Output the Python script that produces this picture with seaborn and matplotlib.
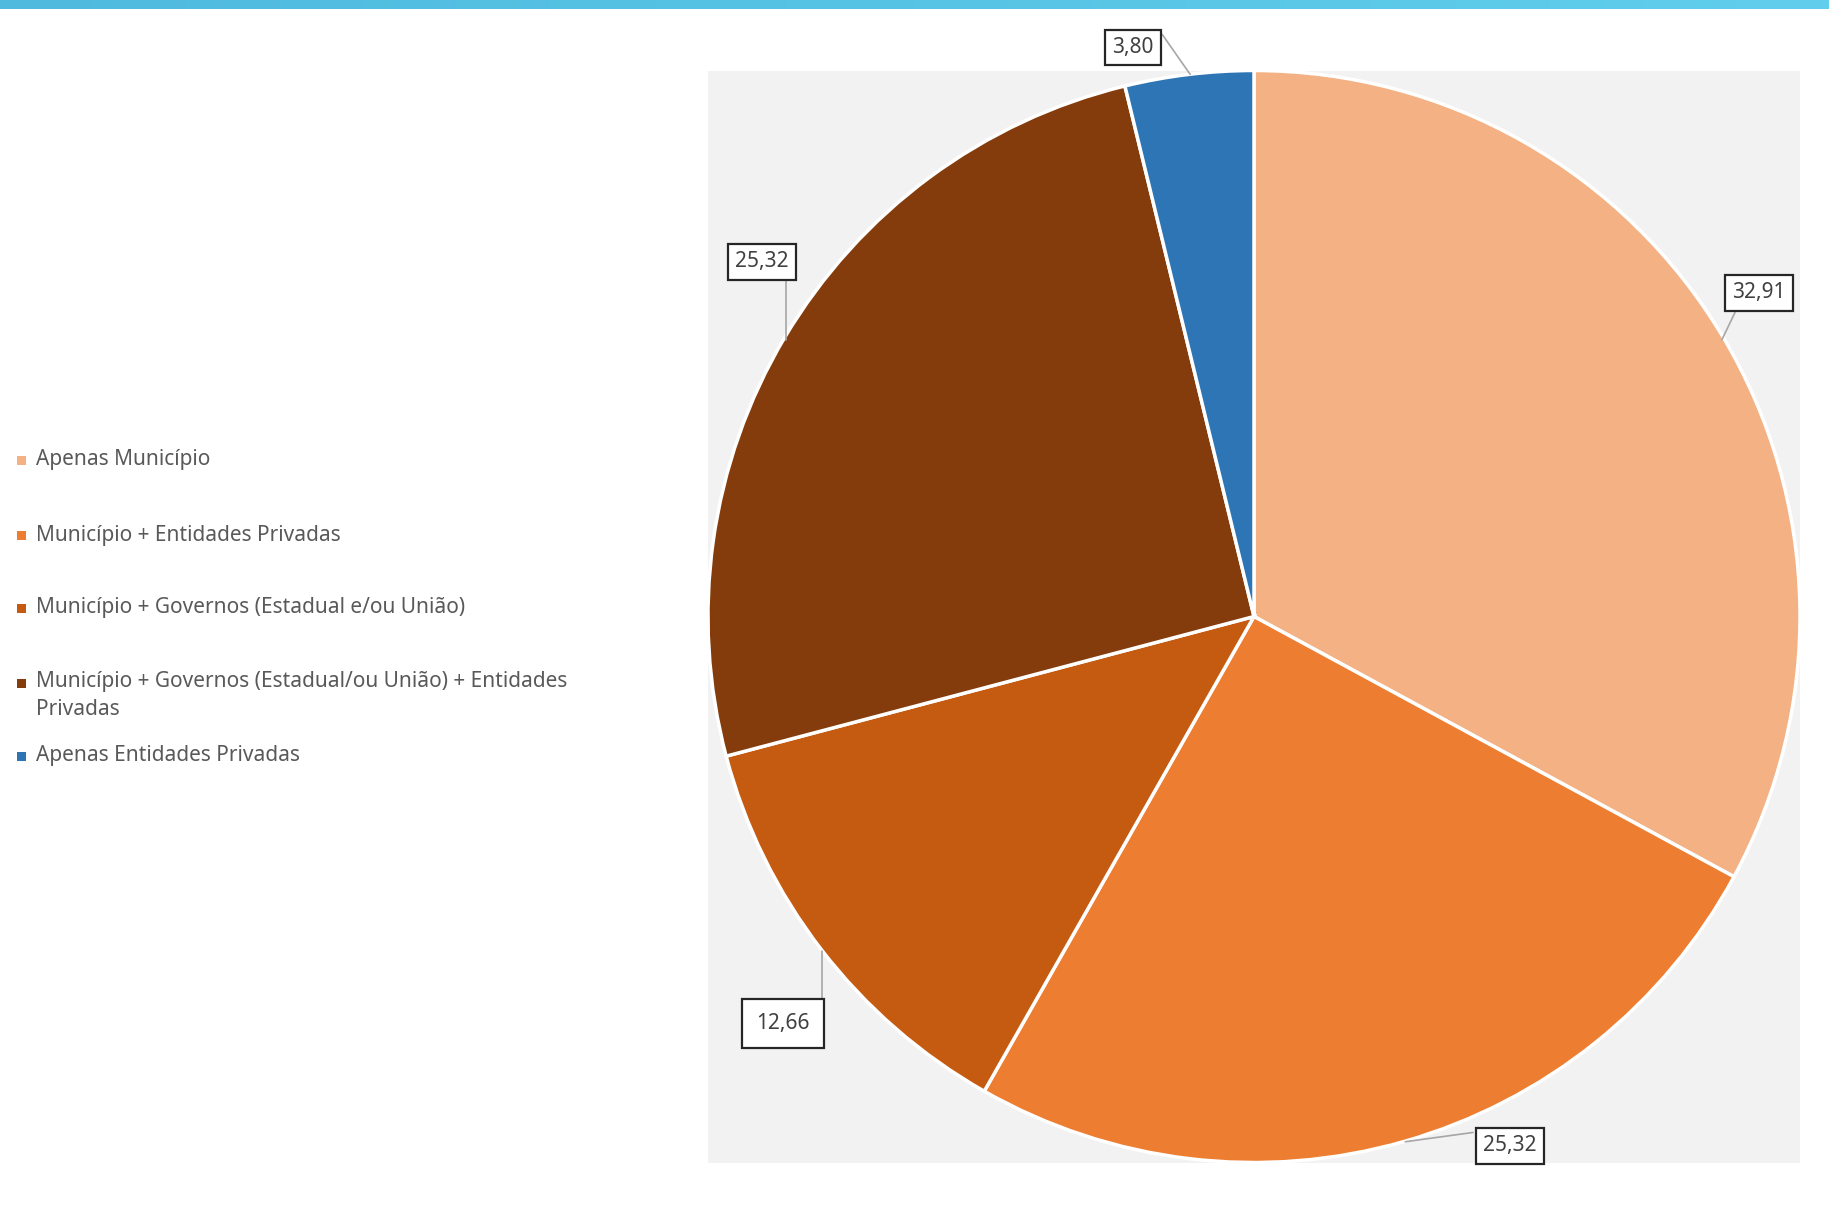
import numpy as np
import matplotlib
matplotlib.use("Agg")
import matplotlib.pyplot as plt
import seaborn as sns

sns.set_style("white")
plt.rcParams["font.family"] = ["Noto Sans", "DejaVu Sans"]

# Data
categories = [
    "Apenas Município",
    "Município + Entidades Privadas",
    "Município + Governos (Estadual e/ou União)",
    "Município + Governos (Estadual/ou União) + Entidades\nPrivadas",
    "Apenas Entidades Privadas",
]
values = [32.91, 25.32, 12.66, 25.32, 3.80]
value_labels = ["32,91", "25,32", "12,66", "25,32", "3,80"]
colors = ["#F4B183", "#ED7D31", "#C55A11", "#843C0C", "#2E75B6"]

# Label layout (axes data coords, pie radius = 1)
label_pos = [(0.925, 0.593), (0.469, -0.969), (-0.863, -0.745), (-0.901, 0.650), (-0.2216, 1.042)]
leader_start = [(0.881, 0.557), (0.401, -0.945), (-0.791, -0.698), (-0.857, 0.615), (-0.168, 1.066)]
leader_end = [(0.857, 0.507), (0.277, -0.962), (-0.791, -0.612), (-0.857, 0.507), (-0.117, 0.993)]
box_pad = [0.36, 0.36, 0.68, 0.36, 0.33]

W, H = 1829, 1217
fig = plt.figure(figsize=(W / 100, H / 100), dpi=100)
fig.patch.set_facecolor("white")

# Top gradient bar
bar = fig.add_axes([0, 1 - 9 / H, 1, 9 / H])
grad = np.linspace(0, 1, 256).reshape(1, -1)
cmap = matplotlib.colors.LinearSegmentedColormap.from_list("bar", ["#4FBADE", "#60CEEC"])
bar.imshow(grad, aspect="auto", cmap=cmap)
bar.axis("off")

# Pie plot area
ax = fig.add_axes([708 / W, 1 - 1163 / H, 1092 / W, 1093 / H])
wedges, _ = ax.pie(values, colors=colors, startangle=90, counterclock=False,
                   radius=1.0, wedgeprops=dict(edgecolor="white", linewidth=2.5))
for w in wedges:
    w.set_clip_on(False)
ax.set_frame_on(True)
ax.set_facecolor("#F2F2F2")
ax.set_xlim(-1.0, 1.0)
ax.set_ylim(-1.0, 1.0)
ax.set_aspect("equal")
for s in ax.spines.values():
    s.set_visible(False)
ax.set_xticks([])
ax.set_yticks([])

for lab, pos, st, en, pad in zip(value_labels, label_pos, leader_start, leader_end, box_pad):
    ax.plot([st[0], en[0]], [st[1], en[1]], color="#A6A6A6", lw=1.2,
            clip_on=False, zorder=4)
    ax.text(pos[0], pos[1], lab, ha="center", va="center", fontsize=15,
            color="#404040", zorder=6, clip_on=False,
            bbox=dict(boxstyle=f"square,pad={pad}", fc="white", ec="#262626", lw=1.6))

# Legend
legend_y = [460, 535, 608, 683, 756]
for cat, col, y in zip(categories, colors, legend_y):
    fig.patches.append(matplotlib.patches.Rectangle(
        (17 / W, 1 - (y + 4.5) / H), 9 / W, 9 / H, transform=fig.transFigure,
        facecolor=col, edgecolor="none"))
    multi = "\n" in cat
    fig.text(36 / W, 1 - (y - 12) / H if multi else 1 - y / H, cat,
             fontsize=15, color="#595959", ha="left",
             va="top" if multi else "center", linespacing=1.45)

fig.savefig("out.png", dpi=100)
